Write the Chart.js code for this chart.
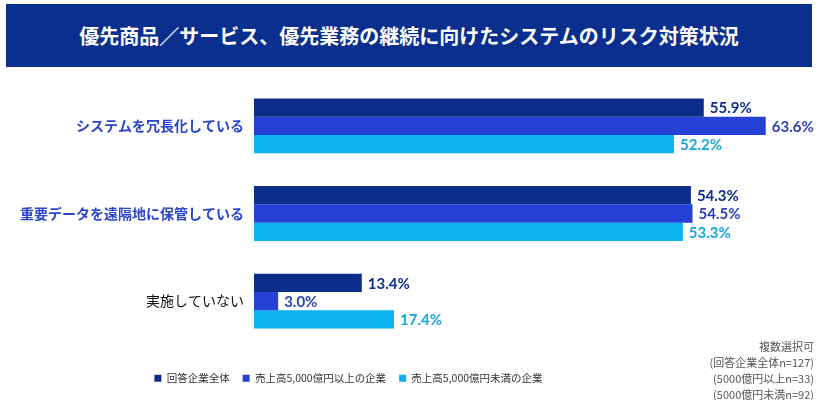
<!DOCTYPE html>
<html><head><meta charset="utf-8">
<script src="https://cdn.jsdelivr.net/npm/chart.js@4"></script>
<style>
html,body{margin:0;padding:0;background:#fff;width:820px;height:400px;overflow:hidden;font-family:"Noto Sans CJK JP","Noto Sans",sans-serif;}
#wrap{position:relative;width:820px;height:400px;}
#banner{position:absolute;left:6px;top:4px;width:806px;height:63px;background:#0b2f8e;color:#fff;font-weight:bold;font-size:20px;line-height:63px;text-align:center;}
#note{position:absolute;right:6px;top:338px;font-size:11px;line-height:16px;color:#555;text-align:right;}
canvas{position:absolute;left:0;top:0;}
</style></head>
<body><div id="wrap">
<canvas id="c" width="820" height="400"></canvas>
<div id="banner">優先商品／サービス、優先業務の継続に向けたシステムのリスク対策状況</div>
<div id="note">複数選択可<br>(回答企業全体n=127)<br>(5000億円以上n=33)<br>(5000億円未満n=92)</div>
</div>
<script>
const categories = ["システムを冗長化している", "重要データを遠隔地に保管している", "実施していない"];
const seriesNames = ["回答企業全体", "売上高5,000億円以上の企業", "売上高5,000億円未満の企業"];
const allCompanies = [55.9, 54.3, 13.4];
const over5000 = [63.6, 54.5, 3.0];
const under5000 = [52.2, 53.3, 17.4];
const categoryColors = ["#2a45c9", "#2a45c9", "#111111"];
const seriesColors = ["#0c2d8a", "#2541d6", "#0bb2ef"];
const labelColors = ["#0c2d8a", "#2a3fb8", "#18a6df"];

const valueLabels = {
  id: 'valueLabels',
  afterDatasetsDraw(chart) {
    const ctx = chart.ctx;
    ctx.save();
    ctx.font = 'bold 15px "Lato","Noto Sans",sans-serif';
    ctx.textBaseline = 'middle';
    ctx.textAlign = 'left';
    chart.data.datasets.forEach((ds, i) => {
      const meta = chart.getDatasetMeta(i);
      ctx.fillStyle = labelColors[i];
      meta.data.forEach((bar, j) => {
        ctx.fillText(ds.data[j].toFixed(1) + '%', bar.x + 6, bar.y + 1);
      });
    });
    ctx.restore();
  }
};
const legendShift = {
  id: 'legendShift',
  afterLayout(chart) {
    const l = chart.legend;
    if (l) { l.left -= 40; l.right -= 40; l.top += 15; l.bottom += 15; }
  }
};

new Chart(document.getElementById('c'), {
  type: 'bar',
  data: {
    labels: categories,
    datasets: [
      { label: seriesNames[0], data: allCompanies, backgroundColor: seriesColors[0] },
      { label: seriesNames[1], data: over5000, backgroundColor: seriesColors[1] },
      { label: seriesNames[2], data: under5000, backgroundColor: seriesColors[2] }
    ]
  },
  options: {
    indexAxis: 'y',
    responsive: false,
    animation: false,
    barPercentage: 1,
    categoryPercentage: 0.625,
    layout: { padding: { top: 82, left: 0, right: 43, bottom: 21.5 } },
    scales: {
      x: { display: false, min: 0, max: 65 },
      y: {
        grid: { display: false, drawTicks: false },
        border: { display: false },
        afterFit(s) { s.width = 254; },
        ticks: {
          padding: 10,
          color: (c) => categoryColors[c.index],
          font: (c) => ({ family: '"Noto Sans CJK JP", sans-serif', size: 14, weight: c.index < 2 ? 'bold' : 'normal' })
        }
      }
    },
    plugins: {
      tooltip: { enabled: false },
      legend: {
        position: 'bottom',
        labels: {
          boxWidth: 7, boxHeight: 7, padding: 13, color: '#333',
          font: { family: '"Noto Sans CJK JP", sans-serif', size: 10.5 }
        }
      }
    }
  },
  plugins: [valueLabels, legendShift]
});
</script>
</body></html>
